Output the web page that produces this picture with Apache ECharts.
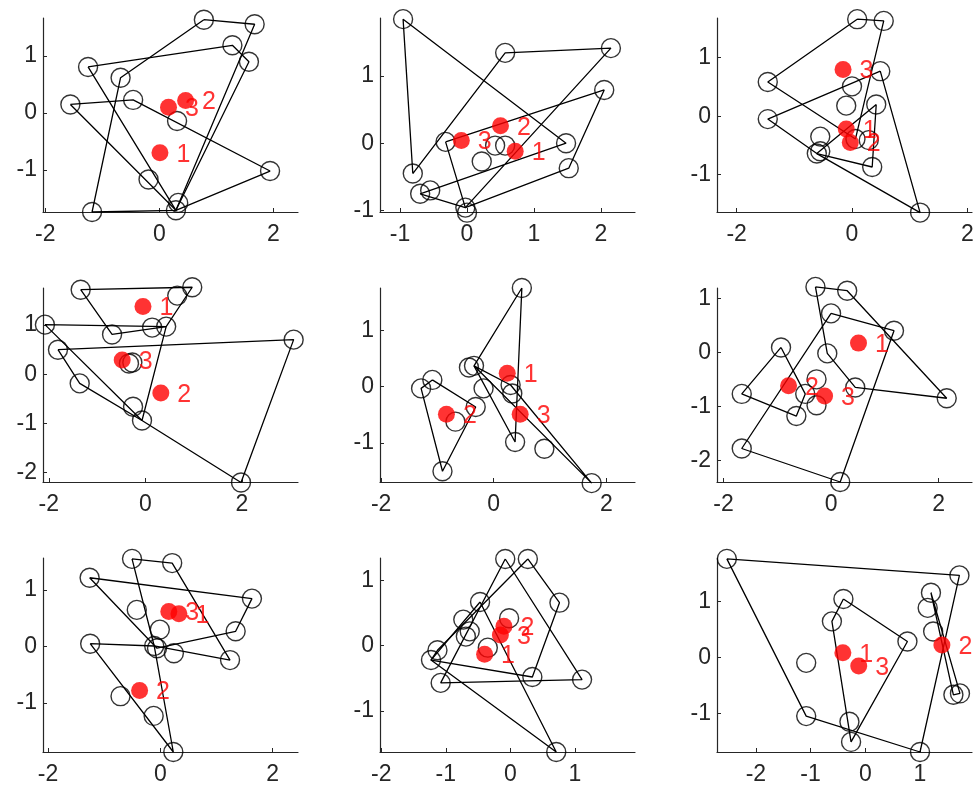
<!DOCTYPE html>
<html>
<head>
<meta charset="utf-8">
<script src="https://cdn.jsdelivr.net/npm/echarts@6/dist/echarts.min.js"></script>
<style>html,body{margin:0;padding:0;background:#fff}#c{width:980px;height:786px}</style>
</head>
<body>
<div id="c"></div>
<script>
// ---- Panel 1 ----
const circles1 = [[0.78,1.64],[1.67,1.56],[1.28,1.19],[1.57,0.90],[-1.25,0.81],[-0.68,0.62],[-1.56,0.15],[-0.46,0.23],[0.31,-0.14],[1.94,-1.02],[-0.19,-1.17],[-1.18,-1.74],[0.33,-1.58],[0.29,-1.71]];
const paths1 = [[0,1,13,11,5,0],[4,2,3,13,4],[6,7,9,13,6]];
const cents1 = [[0.01,-0.70,'1'],[0.46,0.22,'2'],[0.16,0.10,'3']];
const xlim1 = [-2.04,2.43], ylim1 = [-1.74,1.67];
const xticks1 = [-2,0,2], yticks1 = [-1,0,1];
// ---- Panel 2 ----
const circles2 = [[-0.955,1.84],[0.57,1.34],[2.15,1.41],[2.05,0.79],[-0.32,0.02],[1.48,0.0],[1.52,-0.37],[-0.81,-0.45],[-0.70,-0.75],[-0.55,-0.70],[-0.025,-0.955],[0.0,-1.03],[0.22,-0.27],[0.42,-0.035],[0.57,-0.035]];
const paths2 = [[7,0,5,8,10,2,1,7],[4,3,6,10,4]];
const cents2 = [[0.72,-0.12,'1'],[0.50,0.26,'2'],[-0.085,0.04,'3']];
const xlim2 = [-1.30,2.51], ylim2 = [-1.02,1.857];
const xticks2 = [-1,0,1,2], yticks2 = [-1,0,1];
// ---- Panel 3 ----
const circles3 = [[0.09,1.66],[0.55,1.63],[-1.46,0.585],[0.49,0.77],[0.0,0.51],[-0.10,0.18],[0.42,0.20],[-1.46,-0.05],[-0.55,-0.35],[0.06,-0.39],[0.29,-0.41],[-0.61,-0.64],[-0.55,-0.60],[0.35,-0.87],[1.18,-1.65]];
const paths3 = [[0,1,9,2,0],[3,14,11,7,3],[6,13,11,6]];
const cents3 = [[-0.10,-0.22,'1'],[-0.03,-0.45,'2'],[-0.155,0.80,'3']];
const xlim3 = [-2.34,2.08], ylim3 = [-1.64,1.68];
const xticks3 = [-2,0,2], yticks3 = [-1,0,1];
// ---- Panel 4 ----
const circles4 = [[-1.34,1.72],[0.97,1.77],[0.66,1.60],[-2.08,1.01],[-0.69,0.81],[0.14,0.95],[0.43,0.97],[-1.81,0.50],[3.07,0.705],[-0.34,0.22],[-0.27,0.24],[-1.36,-0.185],[-0.255,-0.66],[-0.07,-0.94],[1.98,-2.2]];
const paths4 = [[0,1,6,4,0],[3,6,13,3],[7,8,14,13,11,7]];
const cents4 = [[-0.05,1.38,'1'],[0.32,-0.38,'2'],[-0.48,0.29,'3']];
const xlim4 = [-2.12,3.16], ylim4 = [-2.19,1.755];
const xticks4 = [-2,0,2], yticks4 = [-2,-1,0,1];
// ---- Panel 5 ----
const circles5 = [[0.50,1.75],[-0.44,0.34],[-0.35,0.37],[-1.09,0.12],[-1.29,-0.03],[-0.18,-0.03],[0.30,0.03],[0.33,-0.12],[-0.32,-0.36],[-0.68,-0.62],[0.38,-0.98],[0.90,-1.10],[-0.91,-1.50],[1.74,-1.71]];
const paths5 = [[0,10,2,0],[2,6,13,2],[3,8,12,4,3]];
const cents5 = [[0.24,0.24,'1'],[-0.84,-0.49,'2'],[0.47,-0.49,'3']];
const xlim5 = [-2.02,2.51], ylim5 = [-1.69,1.75];
const xticks5 = [-2,0,2], yticks5 = [-1,0,1];
// ---- Panel 6 ----
const circles6 = [[-0.29,1.21],[0.30,1.14],[0.0,0.72],[1.17,0.40],[-0.93,0.09],[-0.07,-0.02],[-0.27,-0.50],[-0.48,-0.77],[-0.27,-0.98],[0.45,-0.65],[-1.66,-0.77],[-0.645,-1.18],[2.15,-0.85],[-1.66,-1.78],[0.17,-2.40]];
const paths6 = [[0,1,12,9,5,0],[2,3,14,13,2],[4,7,11,10,4]];
const cents6 = [[0.51,0.17,'1'],[-0.79,-0.62,'2'],[-0.12,-0.81,'3']];
const xlim6 = [-2.12,2.62], ylim6 = [-2.40,1.19];
const xticks6 = [-2,0,2], yticks6 = [-2,-1,0,1];
// ---- Panel 7 ----
const circles7 = [[-0.505,1.555],[0.21,1.48],[-1.26,1.22],[1.63,0.85],[-0.42,0.65],[-0.01,0.30],[1.34,0.27],[-1.25,0.05],[-0.11,0.01],[-0.06,-0.03],[0.24,-0.12],[1.24,-0.24],[-0.71,-0.88],[-0.12,-1.23],[0.23,-1.87]];
const paths7 = [[0,1,11,8,0],[2,3,6,9,2],[7,8,14,7]];
const cents7 = [[0.33,0.58,'1'],[-0.37,-0.78,'2'],[0.15,0.62,'3']];
const xlim7 = [-2.09,2.45], ylim7 = [-1.87,1.57];
const xticks7 = [-2,0,2], yticks7 = [-1,0,1];
// ---- Panel 8 ----
const circles8 = [[-0.08,1.33],[0.27,1.33],[0.76,0.66],[-0.47,0.67],[-0.02,0.42],[-0.73,0.40],[-0.63,0.22],[-0.69,0.14],[-1.13,-0.07],[-1.23,-0.22],[-0.35,-0.03],[0.34,-0.48],[-1.08,-0.57],[1.11,-0.52],[0.71,-1.63]];
const paths8 = [[0,13,12,0],[1,2,11,9,8,1],[3,14,9,3]];
const cents8 = [[-0.40,-0.13,'1'],[-0.10,0.30,'2'],[-0.155,0.165,'3']];
const xlim8 = [-2.02,1.93], ylim8 = [-1.63,1.345];
const xticks8 = [-2,-1,0,1], yticks8 = [-1,0,1];
// ---- Panel 9 ----
const circles9 = [[-2.53,1.755],[1.72,1.46],[1.20,1.15],[1.14,0.88],[1.24,0.46],[-0.40,1.04],[-0.61,0.64],[0.77,0.28],[-1.08,-0.10],[1.61,-0.67],[1.73,-0.645],[-1.08,-1.05],[-0.29,-1.15],[-0.26,-1.51],[1.00,-1.69]];
const paths9 = [[0,1,14,11,0],[5,7,13,6,5],[2,10,9,2]];
const cents9 = [[-0.41,0.08,'1'],[1.40,0.22,'2'],[-0.12,-0.155,'3']];
const xlim9 = [-2.71,1.95], ylim9 = [-1.69,1.77];
const xticks9 = [-2,-1,0,1], yticks9 = [-1,0,1];

const panels = [
  {c:circles1,p:paths1,m:cents1,xl:xlim1,yl:ylim1,xt:xticks1,yt:yticks1},
  {c:circles2,p:paths2,m:cents2,xl:xlim2,yl:ylim2,xt:xticks2,yt:yticks2},
  {c:circles3,p:paths3,m:cents3,xl:xlim3,yl:ylim3,xt:xticks3,yt:yticks3},
  {c:circles4,p:paths4,m:cents4,xl:xlim4,yl:ylim4,xt:xticks4,yt:yticks4},
  {c:circles5,p:paths5,m:cents5,xl:xlim5,yl:ylim5,xt:xticks5,yt:yticks5},
  {c:circles6,p:paths6,m:cents6,xl:xlim6,yl:ylim6,xt:xticks6,yt:yticks6},
  {c:circles7,p:paths7,m:cents7,xl:xlim7,yl:ylim7,xt:xticks7,yt:yticks7},
  {c:circles8,p:paths8,m:cents8,xl:xlim8,yl:ylim8,xt:xticks8,yt:yticks8},
  {c:circles9,p:paths9,m:cents9,xl:xlim9,yl:ylim9,xt:xticks9,yt:yticks9}
];

const colLeft = [43,380,717], rowTop = [18,288,558], gw = 255, gh = 194;
const axisColor = '#262626';
const font = 'Liberation Sans, Arial, Helvetica, sans-serif';

const grid = [], xAxis = [], yAxis = [], series = [];
panels.forEach((P, i) => {
  const r = Math.floor(i/3), c = i % 3;
  grid.push({left: colLeft[c], top: rowTop[r], width: gw, height: gh});
  const common = {
    type: 'value', gridIndex: i,
    axisLine: {show: true, onZero: false, lineStyle: {color: axisColor, width: 1.2}},
    splitLine: {show: false},
  };
  xAxis.push(Object.assign({}, common, {
    min: P.xl[0], max: P.xl[1],
    axisTick: {show: true, inside: true, length: 4, customValues: P.xt, lineStyle: {color: axisColor}},
    axisLabel: {customValues: P.xt, color: axisColor, fontSize: 23, fontFamily: font, margin: 11}
  }));
  yAxis.push(Object.assign({}, common, {
    min: P.yl[0], max: P.yl[1],
    axisTick: {show: true, inside: true, length: 4, customValues: P.yt, lineStyle: {color: axisColor}},
    axisLabel: {customValues: P.yt, color: axisColor, fontSize: 23, fontFamily: font, margin: 6}
  }));
  P.p.forEach(path => {
    series.push({
      type: 'line', xAxisIndex: i, yAxisIndex: i,
      data: path.map(k => P.c[k]),
      symbol: 'none', silent: true, z: 2, clip: false,
      lineStyle: {color: '#000', width: 1.3}
    });
  });
  series.push({
    type: 'scatter', xAxisIndex: i, yAxisIndex: i, z: 3, clip: false,
    data: P.c, symbol: 'circle', symbolSize: 19,
    itemStyle: {color: 'rgba(0,0,0,0)', borderColor: '#000', borderWidth: 1.4}
  });
  series.push({
    type: 'scatter', xAxisIndex: i, yAxisIndex: i, z: 4, clip: false,
    data: P.m.map(d => ({value: [d[0], d[1]], name: d[2]})),
    symbol: 'circle', symbolSize: 17,
    itemStyle: {color: '#ff0000'},
    label: {show: true, position: 'right', distance: 8, offset: [0, 2], formatter: '{b}',
            color: '#ff0000', fontSize: 25, fontFamily: font}
  });
});

const chart = echarts.init(document.getElementById('c'), null, {renderer: 'canvas'});
chart.setOption({animation: false, backgroundColor: '#fff', grid, xAxis, yAxis, series});
</script>
</body>
</html>
